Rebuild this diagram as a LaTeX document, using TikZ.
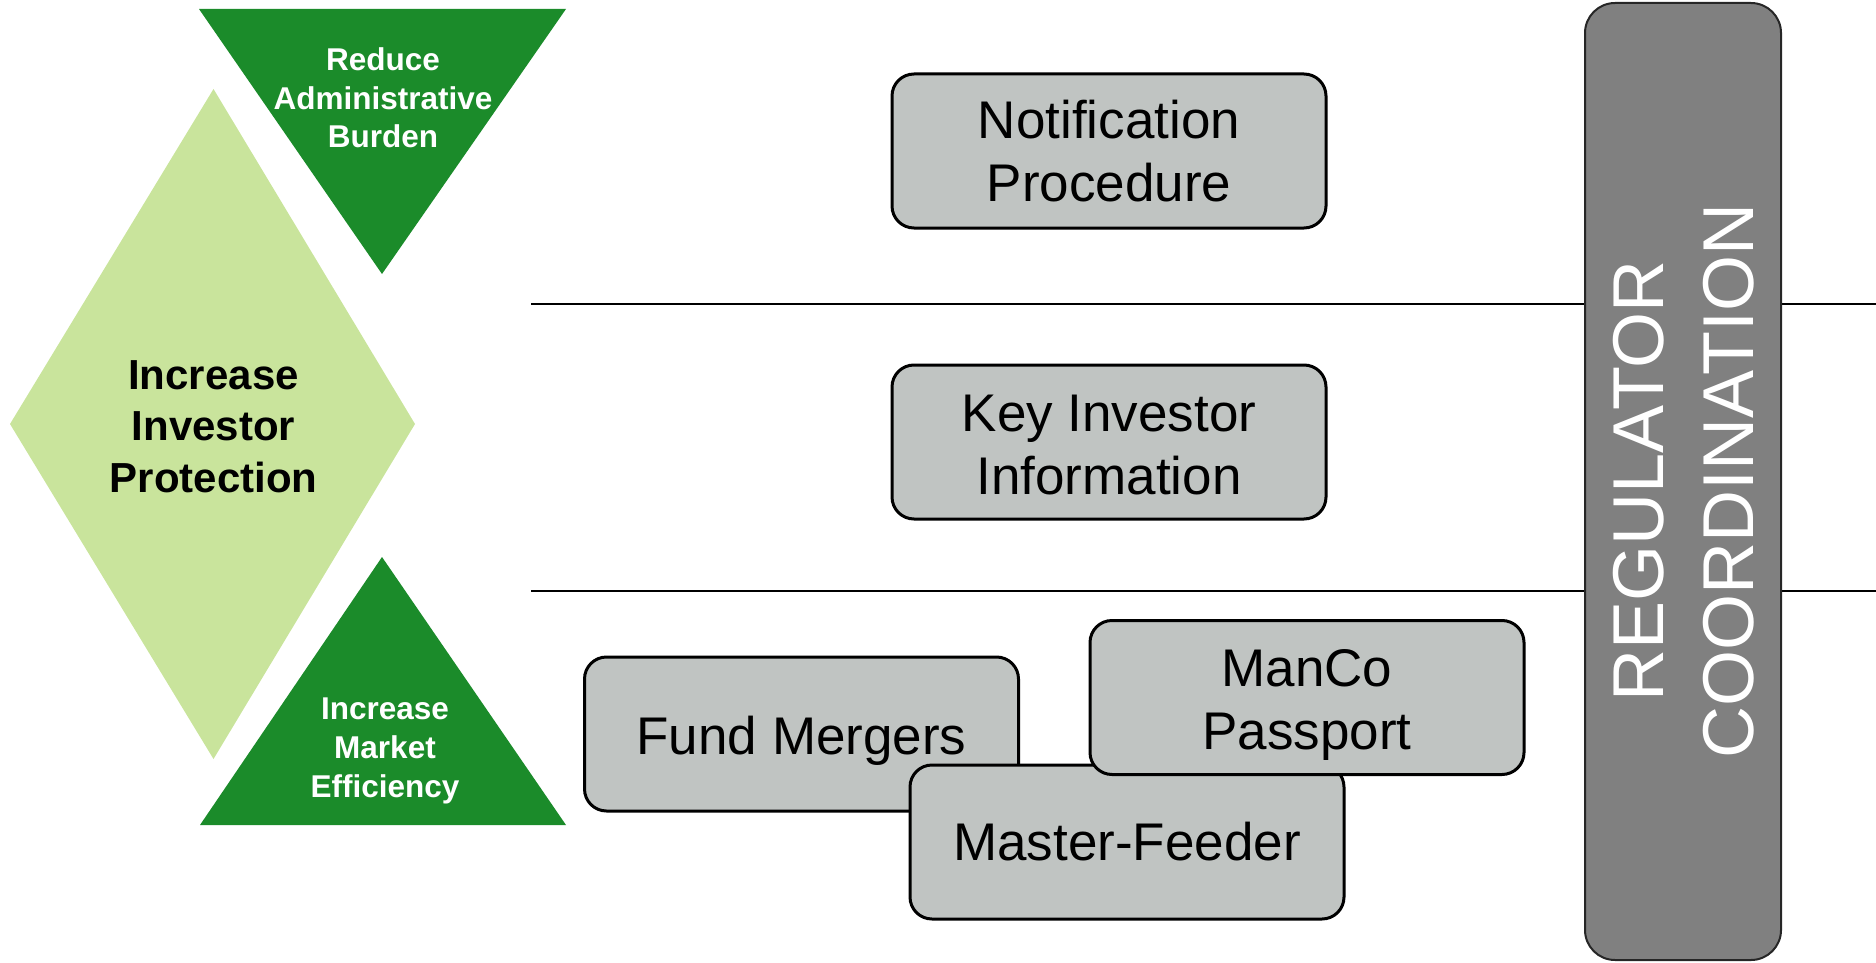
\documentclass[tikz,border=0pt]{standalone}
\usepackage{fontspec}
\setmainfont{Liberation Sans}
\definecolor{darkgreen}{RGB}{27,139,42}
\definecolor{lightgreen}{RGB}{201,228,156}
\definecolor{boxgray}{RGB}{192,196,194}
\definecolor{bargray}{RGB}{128,128,128}
\begin{document}
\begin{tikzpicture}[x=1pt,y=-1pt,
  box/.style={draw=black, line width=3pt, fill=boxgray, rounded corners=22pt,
    minimum width=434pt, minimum height=154pt, inner sep=0pt},
  boxtext/.style={font=\fontsize{53}{63}\selectfont, align=center, inner sep=0pt},
  tritext/.style={font=\fontsize{31.5}{38.7}\selectfont\bfseries, text=white, align=center, inner sep=0pt},
  maintext/.style={font=\fontsize{42}{51.4}\selectfont\bfseries, align=center, inner sep=0pt},
  sepline/.style={draw=black, line width=2pt},
  regbar/.style={draw=black!85, line width=2pt, fill=bargray, rounded corners=30pt,
    minimum width=196pt, minimum height=957pt, inner sep=0pt},
  regtext/.style={font=\fontsize{72}{90}\selectfont, text=white, align=center, inner sep=0pt, rotate=90}]
\useasboundingbox (0,0) rectangle (1876,963);

% separator lines
\coordinate (l1s) at (531,304);
\coordinate (l1e) at (1876,304);
\coordinate (l2s) at (531,591);
\coordinate (l2e) at (1876,591);
\draw[sepline] (l1s) -- (l1e);
\draw[sepline] (l2s) -- (l2e);

% left shapes
\fill[lightgreen] (213.5,89) -- (415,424) -- (213.5,759) -- (10,424) -- cycle;
\fill[darkgreen] (199,9) -- (566,9) -- (382,274) -- cycle;
\fill[darkgreen] (382,557) -- (566,825) -- (200,825) -- cycle;

\node[maintext] (protect) at (213.5,426.5) {Increase\\Investor\\Protection};
\node[tritext] (admin) at (383,97.8) {Reduce\\Administrative\\Burden};
\node[tritext] (market) at (385,750.8) {Increase\\Market\\Efficiency};

% boxes
\node[box] (notif) at (1109,151) {};
\node[boxtext] (notifT) at (1109,151.5) {Notification\\Procedure};
\node[box] (kii) at (1109,442) {};
\node[boxtext] (kiiT) at (1109,445) {Key Investor\\Information};
\node[box] (merge) at (801.5,734) {};
\node[boxtext] (mergeT) at (801.5,740.3) {Fund Mergers};
\node[box] (master) at (1127,842) {};
\node[boxtext] (masterT) at (1127,841.5) {Master-Feeder};
\node[box] (manco) at (1307,697.5) {};
\node[boxtext] (mancoT) at (1307,704.5) {ManCo\\Passport};

% regulator bar
\node[regbar] (reg) at (1683,481.5) {};
\node[regtext] (regT) at (1684,481) {REGULATOR\\COORDINATION};
\end{tikzpicture}
\end{document}
